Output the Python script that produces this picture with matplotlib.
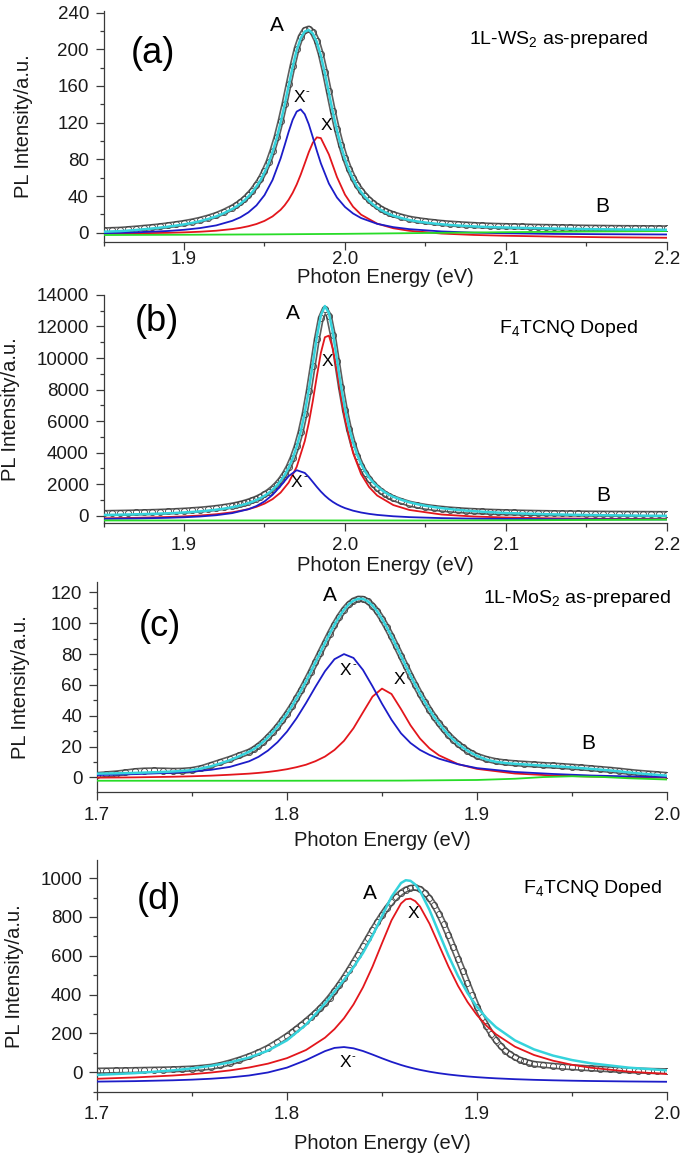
import matplotlib
matplotlib.use("Agg")
import matplotlib.pyplot as plt
from matplotlib.ticker import MultipleLocator

plt.rcParams["font.family"] = ["Liberation Sans", "DejaVu Sans"]
plt.rcParams["mathtext.fontset"] = "custom"
plt.rcParams["mathtext.rm"] = "Liberation Sans"
plt.rcParams["mathtext.it"] = "Liberation Sans:italic"
plt.rcParams["mathtext.bf"] = "Liberation Sans:bold"

# ---------------------------------------------------------------------------
# Datos
# ---------------------------------------------------------------------------

# rejilla de energía de los espectros medidos (WS2)
E_WS2 = [1.85, 1.855, 1.86, 1.865, 1.87, 1.875, 1.88, 1.885, 1.89, 1.895, 1.90,
         1.905, 1.91, 1.915, 1.92, 1.925,
         1.93, 1.9325, 1.935, 1.9375, 1.94, 1.9425, 1.945, 1.9475, 1.95, 1.9525,
         1.955, 1.9575, 1.96, 1.9625, 1.965, 1.9675, 1.97, 1.9725, 1.975, 1.9775,
         1.98, 1.9825, 1.985, 1.9875, 1.99, 1.9925, 1.995, 1.9975, 2.0, 2.0025,
         2.005, 2.0075, 2.01, 2.0125, 2.015, 2.0175, 2.02, 2.0225, 2.025, 2.0275, 2.03,
         2.035, 2.04, 2.045, 2.05, 2.055, 2.06, 2.065, 2.07, 2.075, 2.08, 2.085,
         2.09, 2.095, 2.10, 2.105, 2.11, 2.115, 2.12, 2.125, 2.13, 2.135, 2.14,
         2.145, 2.15, 2.155, 2.16, 2.165, 2.17, 2.175, 2.18, 2.185, 2.19, 2.195, 2.20]

# rejillas de las componentes ajustadas (WS2)
E_WS2_FIT = [1.85, 1.87, 1.89, 1.90, 1.91, 1.92, 1.93, 1.935, 1.94, 1.945, 1.95,
             1.955, 1.96, 1.9625, 1.965, 1.9675, 1.97, 1.9725, 1.975, 1.9775, 1.98,
             1.9825, 1.985, 1.99, 1.995, 2.0, 2.005, 2.01, 2.02, 2.03, 2.04, 2.06,
             2.08, 2.10, 2.13, 2.16, 2.20]
E_WS2_FIT_B = [1.85, 1.87, 1.89, 1.90, 1.91, 1.92, 1.93, 1.94, 1.945, 1.95, 1.955,
               1.96, 1.965, 1.97, 1.975, 1.9775, 1.98, 1.9825, 1.985, 1.9875, 1.99,
               1.9925, 1.995, 1.9975, 2.0, 2.005, 2.01, 2.015, 2.02, 2.03, 2.04, 2.06,
               2.08, 2.10, 2.13, 2.16, 2.20]

# (a) 1L-WS2 as-prepared
A_DATA = [2.6, 2.9, 3.2, 3.8, 4.5, 5.3, 6.1, 7.0, 8.1, 9.3, 10.6, 12.2, 14.1, 16.5,
          19.3, 23.0,
          27.4, 30.0, 33.1, 36.7, 41.0, 46.0, 52.0, 58.6, 67.3, 77.1, 89.6, 104.1,
          121.6, 140.9, 161.8, 182.3, 200.7, 213.6, 220.9, 222.5, 218.7, 209.5, 194.7,
          175.5, 154.0, 132.6, 113.0, 96.1, 81.8, 69.9, 60.2, 52.1, 45.9, 40.5, 36.0,
          32.2, 28.9, 26.1, 23.8, 21.8, 20.1,
          17.5, 15.3, 13.8, 12.6, 11.6, 10.7, 10.0, 9.4, 8.9, 8.4, 8.0, 7.7, 7.4,
          7.2, 7.0, 6.8, 6.6, 6.4, 6.25, 6.1, 5.95, 5.8, 5.65, 5.5, 5.4, 5.3, 5.2,
          5.1, 5.05, 5.0, 4.95, 4.9, 4.8, 4.7]
A_CYAN = [1.1, 1.4, 1.7, 2.3, 3.0, 3.8, 4.6, 5.5, 6.6, 7.8, 9.1, 10.7, 12.6, 15.0,
          17.8, 21.5,
          25.9, 28.5, 31.6, 35.2, 39.5, 44.5, 50.5, 57.1, 65.8, 75.6, 88.1, 102.6,
          120.1, 139.4, 160.3, 180.8, 199.2, 212.1, 219.4, 221.0, 217.2, 208.0, 193.2,
          174.0, 152.5, 131.1, 111.5, 94.6, 80.3, 68.4, 58.7, 50.6, 44.4, 39.0, 34.5,
          30.7, 27.4, 24.6, 22.3, 20.3, 18.6,
          16.0, 13.8, 12.3, 11.1, 10.1, 9.2, 8.5, 7.9, 7.4, 6.9, 6.5, 6.2, 5.9,
          5.7, 5.5, 5.3, 5.1, 4.9, 4.75, 4.6, 4.45, 4.3, 4.15, 4.0, 3.9, 3.8, 3.7,
          3.6, 3.55, 3.5, 3.45, 3.4, 3.3, 3.2]
A_TRION = [-0.5, 0.4, 1.9, 3.2, 5.1, 8.0, 13.0, 16.8, 22.2, 29.8, 41.0, 57.5, 81.0,
           95.3, 110.0, 123.2, 132.1, 134.5, 129.2, 118.3, 104.2, 89.4, 75.7, 53.6,
           38.4, 28.1, 21.0, 16.0, 9.7, 6.1, 3.9, 1.4, 0.1, -0.6, -1.3, -1.6, -1.9]
A_EXCITON = [-0.8, -0.6, -0.1, 0.4, 1.1, 2.2, 4.0, 5.3, 7.1, 9.5, 12.9, 17.8, 25.0,
             29.9, 36.0, 43.5, 52.6, 63.4, 75.5, 87.8, 98.1, 104.0, 103.2, 85.3, 60.8,
             41.5, 28.4, 19.7, 9.9, 4.9, 2.1, -0.9, -2.4, -3.3, -4.2, -4.9, -5.5]
A_GREEN_E = [1.85, 1.90, 1.95, 2.0, 2.05, 2.10, 2.15, 2.20]
A_GREEN = [-2.5, -2.2, -1.8, -1.2, -0.3, 0.6, 1.3, 1.8]

# (b) WS2 F4TCNQ doped
B_DATA = [167, 175, 184, 194, 206, 219, 233, 250, 270, 293, 320, 352, 389, 435,
          490, 560,
          645, 697, 755, 822, 899, 987, 1090, 1211, 1353, 1521, 1724, 1969, 2268,
          2637, 3096, 3674, 4403, 5324, 6482, 7894, 9521, 11184, 12528, 13110, 12682,
          11433, 9791, 8142, 6690, 5493, 4537, 3779, 3180, 2704, 2322, 2012, 1760,
          1551, 1378, 1231, 1108,
          924, 765, 655, 565, 496, 439, 393, 354, 322, 295, 272, 252, 235, 220,
          207, 195, 185, 175, 167, 160, 153, 147, 142, 137, 132, 128, 124, 121,
          118, 115, 112, 110, 107, 105]
B_CYAN = [51, 59, 68, 79, 91, 104, 118, 136, 156, 180, 208, 240, 278, 325, 382, 454,
          540, 593, 653, 721, 800, 890, 996, 1119, 1265, 1437, 1645, 1895, 2201,
          2579, 3049, 3640, 4386, 5329, 6514, 7960, 9625, 11327, 12702, 13298, 12860,
          11582, 9901, 8213, 6800, 5600, 4640, 3880, 3280, 2800, 2420, 2110, 1860,
          1650, 1475, 1325, 1200,
          1010, 850, 730, 630, 550, 480, 420, 370, 327, 290, 256, 225, 198, 175,
          157, 140, 124, 110, 97, 85, 75, 65, 56, 48, 41, 34, 28, 22, 17, 12, 7,
          3, -1, -5]
B_EXCITON = [-163, -132, -80, -40, 15, 95, 217, 415, 564, 766, 1051, 1468, 2100,
             3101, 4727, 5875, 7270, 8835, 10325, 11319, 11419, 10579, 9150, 7575,
             6135, 3980, 2642, 1814, 1281, 677, 366, 76, -49, -114, -166, -192, -212]
B_TRION = [-196, -173, -132, -98, -47, 32, 166, 413, 615, 907, 1325, 1889, 2512,
           2888, 2715, 2454, 2143, 1827, 1534, 1277, 1057, 873, 719, 592, 485, 321,
           204, 118, 53, -34, -89, -151, -184, -202, -218, -228, -235]
B_GREEN_E = [1.85, 1.95, 2.05, 2.10, 2.15, 2.20]
B_GREEN = [-300, -300, -300, -290, -270, -250]

# rejillas MoS2
E_MOS2 = [1.70, 1.705, 1.71, 1.715, 1.72, 1.725, 1.73, 1.735, 1.74, 1.745, 1.75,
          1.755, 1.76, 1.765, 1.77, 1.775,
          1.78, 1.7825, 1.785, 1.7875, 1.79, 1.7925, 1.795, 1.7975, 1.80, 1.8025,
          1.805, 1.8075, 1.81, 1.8125, 1.815, 1.8175, 1.82, 1.8225, 1.825, 1.8275,
          1.83, 1.8325, 1.835, 1.8375, 1.84, 1.8425, 1.845, 1.8475, 1.85, 1.8525,
          1.855, 1.8575, 1.86, 1.8625, 1.865, 1.8675, 1.87, 1.8725, 1.875, 1.8775,
          1.88, 1.8825, 1.885, 1.8875, 1.89, 1.8925, 1.895, 1.8975, 1.90,
          1.905, 1.91, 1.915, 1.92, 1.925, 1.93, 1.935, 1.94, 1.945, 1.95, 1.955,
          1.96, 1.965, 1.97, 1.975, 1.98, 1.985, 1.99, 1.995, 2.00]
E_MOS2_FIT = [1.70, 1.72, 1.74, 1.75, 1.76, 1.77, 1.78, 1.785, 1.79, 1.795, 1.80,
              1.805, 1.81, 1.815, 1.82, 1.825, 1.83, 1.835, 1.84, 1.845, 1.85, 1.855,
              1.86, 1.865, 1.87, 1.875, 1.88, 1.89, 1.90, 1.92, 1.94, 1.96, 1.98, 2.00]

# (c) 1L-MoS2 as-prepared
C_DATA = [1.5, 2.0, 2.5, 3.2, 4.0, 4.4, 4.5, 4.4, 4.2, 4.3, 4.8, 6.0, 8.0, 10.0,
          12.0, 14.3,
          16.6, 18.3, 20.5, 23.0, 26.1, 29.3, 32.9, 36.9, 41.3, 46.0, 51.2, 56.6,
          62.4, 68.4, 74.7, 81.0, 87.2, 93.3, 99.1, 104.3, 108.8, 112.3, 114.7, 115.9,
          115.8, 114.3, 111.5, 107.7, 102.9, 97.4, 91.5, 85.2, 78.8, 72.4, 66.1, 60.1,
          54.3, 48.9, 43.9, 39.2, 35.0, 31.1, 27.6, 24.5, 21.8, 19.4, 17.3, 15.5, 13.9,
          11.9, 10.5, 9.7, 9.2, 8.8, 8.4, 8.0, 7.7, 7.3, 6.9, 6.4, 5.9, 5.4, 4.9,
          4.3, 3.6, 3.0, 2.5, 2.0, 1.5]
C_CYAN = [2.4, 2.5, 2.6, 2.75, 2.9, 3.1, 3.3, 3.55, 3.8, 4.2, 4.7, 5.8, 7.2, 9.1,
          11.2, 13.8,
          16.6, 18.3, 20.5, 23.0, 26.1, 29.3, 32.9, 36.9, 41.3, 46.0, 51.2, 56.6,
          62.4, 68.4, 74.7, 81.0, 87.2, 93.3, 99.1, 104.3, 108.8, 112.3, 114.7, 115.9,
          115.8, 114.3, 111.5, 107.7, 102.9, 97.4, 91.5, 85.2, 78.8, 72.4, 66.1, 60.1,
          54.3, 48.9, 43.9, 39.2, 35.0, 31.1, 27.6, 24.5, 21.8, 19.4, 17.3, 15.5, 13.9,
          11.5, 10.1, 9.3, 8.8, 8.4, 8.0, 7.6, 7.3, 6.9, 6.5, 6.0, 5.5, 5.0, 4.5,
          3.9, 3.2, 2.6, 2.1, 1.6, 1.1]
C_TRION = [1.5, 2.1, 3.0, 3.8, 4.9, 6.8, 10.4, 13.3, 17.4, 22.8, 29.7, 38.3, 48.2,
           58.8, 68.9, 76.7, 80.0, 77.5, 69.7, 59.1, 47.8, 37.4, 28.6, 22.3, 17.8,
           14.6, 12.1, 8.5, 6.0, 3.5, 2.2, 1.2, 0.6, 0.3]
C_EXCITON = [-0.2, 0.0, 0.4, 0.7, 1.1, 1.7, 2.4, 2.9, 3.5, 4.3, 5.3, 6.6, 8.2, 10.5,
             13.5, 17.8, 23.7, 31.9, 42.2, 52.4, 57.6, 54.1, 44.3, 33.8, 25.2, 18.8,
             14.3, 8.6, 5.5, 2.5, 1.2, 0.5, 0.05, -0.2]
C_GREEN_E = [1.70, 1.80, 1.86, 1.90, 1.92, 1.935, 1.95, 1.965, 1.98, 2.00]
C_GREEN = [-2.2, -2.2, -2.1, -1.7, -0.9, 0.2, 0.7, 0.3, -0.6, -1.4]

# (d) MoS2 F4TCNQ doped
E_MOS2_D = [1.70, 1.705, 1.71, 1.715, 1.72, 1.725, 1.73, 1.735, 1.74, 1.745, 1.75,
            1.755, 1.76, 1.765, 1.77, 1.775, 1.78, 1.785, 1.79, 1.795,
            1.80, 1.8025, 1.805, 1.8075, 1.81, 1.8125, 1.815, 1.8175, 1.82, 1.8225,
            1.825, 1.8275, 1.83, 1.8325, 1.835, 1.8375, 1.84, 1.8425, 1.845, 1.8475,
            1.85, 1.8525, 1.855, 1.8575, 1.86, 1.8625, 1.865, 1.8675, 1.87, 1.8725,
            1.875, 1.8775, 1.88, 1.8825, 1.885, 1.8875, 1.89, 1.8925, 1.895, 1.8975,
            1.90, 1.9025, 1.905, 1.9075, 1.91, 1.9125, 1.915, 1.9175, 1.92, 1.9225,
            1.925, 1.9275, 1.93,
            1.935, 1.94, 1.945, 1.95, 1.955, 1.96, 1.965, 1.97, 1.975, 1.98, 1.985,
            1.99, 1.995, 2.00]
D_DATA = [8, 8.7, 9.5, 10.2, 11, 12, 13, 14, 15, 16.8, 19, 23, 28, 37, 50, 65, 82,
          102, 126, 155,
          187, 205, 224, 243, 263, 284, 306, 330, 356, 385,
          417, 451, 487, 525, 565, 606, 648, 690, 732, 772,
          810, 845, 876, 903, 925, 941, 950, 952, 944, 925,
          897, 860, 815, 763, 706, 646, 585, 524, 460, 398,
          338, 286, 240, 199, 164, 135, 111, 92, 77, 65,
          56, 49, 43,
          38, 33, 29, 26, 23, 20, 17.5, 15, 12.5, 10, 8.5, 7, 6, 5]
E_MOS2_D_FIT = [1.70, 1.72, 1.74, 1.75, 1.76, 1.77, 1.78, 1.79, 1.80, 1.81, 1.82,
                1.825, 1.83, 1.835, 1.84, 1.845, 1.85, 1.855, 1.86, 1.8625, 1.865,
                1.8675, 1.87, 1.875, 1.88, 1.885, 1.89, 1.895, 1.90, 1.905, 1.91,
                1.92, 1.93, 1.94, 1.95, 1.96, 1.98, 2.00]
D_EXCITON = [-33.6, -26.8, -16.9, -10.1, -1.6, 9.5, 24.3, 44.3, 72.7, 114.5, 178.0,
             222.4, 278.3, 349.3, 437.6, 544.2, 664.5, 782.5, 869.4, 891.1, 894.5,
             881.7, 854.0, 765.5, 654.9, 544.2, 445.3, 362.2, 294.3, 239.6, 195.7,
             131.6, 88.9, 59.4, 38.4, 23.2, 3.0, -9.1]
D_TRION = [-48.3, -45.8, -41.5, -38.2, -33.5, -26.8, -16.8, -1.1, 23.9, 62.3, 108.8,
           125.4, 129.8, 123.3, 109.3, 91.1, 71.8, 53.6, 37.5, 30.3, 23.8, 17.8,
           12.3, 2.8, -5.1, -11.6, -17.0, -21.6, -25.4, -28.6, -31.4, -35.8, -39.1,
           -41.6, -43.6, -45.2, -47.5, -49.1]
D_CYAN = [-13.9, -4.6, 9.6, 19.7, 32.9, 50.7, 75.5, 111.2, 164.6, 244.8, 354.8,
          415.8, 476.1, 540.6, 614.9, 703.3, 804.3, 904.1, 974.9, 989.4, 986.3,
          967.5, 934.3, 836.3, 717.8, 600.6, 496.3, 408.6, 336.9, 279.0, 232.3,
          163.8, 117.8, 85.8, 62.8, 46.0, 23.5, 9.8]

# colores
COL_EJE = "#3a3a3a"
COL_CIRC = "#404040"
COL_CYAN = "#35d3dc"
COL_RED = "#e3161c"
COL_BLUE = "#1c1cc8"
COL_GREEN = "#28dc28"

fig = plt.figure(figsize=(6.85, 11.58), dpi=100)


def panel(rect, xlim, ylim, xmaj, ymaj, e_dat, y_dat, e_cy, y_cy,
          e_x, y_x, e_t, y_t, xpad, xlab_y, ylab_x):
    ax = fig.add_axes(rect)
    # puntos medidos (círculos abiertos muy densos)
    ax.plot(e_dat, y_dat, color="#5e5e5e", lw=4.6, solid_capstyle="round", zorder=2)
    ax.plot(e_dat, y_dat, color="white", lw=2.2, zorder=2.1)
    ax.plot(e_dat, y_dat, ls="none", marker="o", ms=4.4, mfc="none",
            mec=COL_CIRC, mew=0.6, zorder=2.2)
    ax.plot(e_x, y_x, color=COL_RED, lw=1.3, zorder=3)
    ax.plot(e_t, y_t, color=COL_BLUE, lw=1.3, zorder=3)
    ax.plot(e_cy, y_cy, color=COL_CYAN, lw=1.8, zorder=4)

    ax.set_xlim(*xlim)
    ax.set_ylim(*ylim)
    ax.xaxis.set_major_locator(MultipleLocator(xmaj))
    ax.xaxis.set_minor_locator(MultipleLocator(xmaj / 2))
    ax.yaxis.set_major_locator(MultipleLocator(ymaj))
    ax.yaxis.set_minor_locator(MultipleLocator(ymaj / 2))
    for s in ("top", "right"):
        ax.spines[s].set_visible(False)
    for s in ("left", "bottom"):
        ax.spines[s].set_color(COL_EJE)
        ax.spines[s].set_linewidth(0.9)
    ax.tick_params(which="major", direction="out", length=5.8, width=0.9,
                   color=COL_EJE, labelsize=13.5, labelcolor="#1a1a1a")
    ax.tick_params(which="minor", direction="out", length=3.1, width=0.9,
                   color=COL_EJE)
    ax.tick_params(axis="y", which="major", pad=4.7)
    ax.tick_params(axis="x", which="major", pad=xpad)
    ax.set_xlabel("Photon Energy (eV)", fontsize=14.5, color="#1a1a1a")
    ax.set_ylabel("PL Intensity/a.u.", fontsize=14.5, color="#1a1a1a")
    ax.xaxis.set_label_coords(0.5, xlab_y)
    ax.yaxis.set_label_coords(ylab_x, 0.5)
    return ax


def etiqueta_trion(ax, x, y):
    # X con un guion pequeño como superíndice
    ax.text(x, y, "X", fontsize=12.5, ha="center", va="center")
    ax.annotate("-", (x, y), xytext=(4.6, 4.5), textcoords="offset points",
                fontsize=8, ha="left", va="center")


# (a)
ax = panel([0.1511, 0.7911, 0.8226, 0.1992], (1.85, 2.2), (-10, 241.5), 0.1, 40,
           E_WS2, A_DATA, E_WS2, A_CYAN, E_WS2_FIT, A_EXCITON, E_WS2_FIT, A_TRION,
           0.5, -0.113, -0.126)
ax.plot(A_GREEN_E, A_GREEN, color=COL_GREEN, lw=1.3, zorder=3)
ax.text(1.881, 195.6, "(a)", fontsize=26, ha="center", va="center")
ax.text(1.958, 225.4, "A", fontsize=15, ha="center", va="center")
ax.text(2.133, 210.9, "1L-WS$_2$ as-prepared", fontsize=14, ha="center", va="center")
etiqueta_trion(ax, 1.9715, 147.7)
ax.text(1.9884, 116.4, "X", fontsize=12.5, ha="center", va="center")
ax.text(2.160, 28.4, "B", fontsize=15, ha="center", va="center")

# (b)
ax = panel([0.1511, 0.5481, 0.8226, 0.1972], (1.85, 2.2), (-480, 14000), 0.1, 2000,
           E_WS2, B_DATA, E_WS2, B_CYAN, E_WS2_FIT_B, B_EXCITON, E_WS2_FIT_B, B_TRION,
           3.8, -0.143, -0.149)
ax.plot(B_GREEN_E, B_GREEN, color=COL_GREEN, lw=1.3, zorder=3)
ax.text(1.883, 12310, "(b)", fontsize=26, ha="center", va="center")
ax.text(1.9677, 12800, "A", fontsize=15, ha="center", va="center")
ax.text(2.139, 11890, "F$_4$TCNQ Doped", fontsize=14, ha="center", va="center")
ax.text(1.989, 9770, "X", fontsize=12.5, ha="center", va="center")
etiqueta_trion(ax, 1.970, 2094)
ax.text(2.1606, 1270, "B", fontsize=15, ha="center", va="center")

# (c)
ax = panel([0.1416, 0.3158, 0.8321, 0.1819], (1.7, 2.0), (-9.7, 127), 0.1, 20,
           E_MOS2, C_DATA, E_MOS2, C_CYAN, E_MOS2_FIT, C_EXCITON, E_MOS2_FIT, C_TRION,
           4.7, -0.184, -0.1175)
ax.plot(C_GREEN_E, C_GREEN, color=COL_GREEN, lw=1.3, zorder=3)
ax.text(1.733, 97.7, "(c)", fontsize=26, ha="center", va="center")
ax.text(1.8228, 118.2, "A", fontsize=15, ha="center", va="center")
ax.text(1.9525, 116.1, "1L-MoS$_2$ as-prepared", fontsize=14, ha="center", va="center")
etiqueta_trion(ax, 1.8309, 69.2)
ax.text(1.859, 63.8, "X", fontsize=12.5, ha="center", va="center")
ax.text(1.9587, 22.0, "B", fontsize=15, ha="center", va="center")

# (d)
ax = panel([0.1416, 0.0573, 0.8321, 0.2001], (1.7, 2.0), (-100, 1094), 0.1, 200,
           E_MOS2_D, D_DATA, E_MOS2_D_FIT, D_CYAN, E_MOS2_D_FIT, D_EXCITON,
           E_MOS2_D_FIT, D_TRION, 4.7, -0.183, -0.128)
ax.text(1.7328, 888, "(d)", fontsize=26, ha="center", va="center")
ax.text(1.8438, 923, "A", fontsize=15, ha="center", va="center")
ax.text(1.9608, 948, "F$_4$TCNQ Doped", fontsize=14, ha="center", va="center")
ax.text(1.8666, 820, "X", fontsize=12.5, ha="center", va="center")
etiqueta_trion(ax, 1.8305, 49.5)

fig.savefig("out.png", dpi=100)
